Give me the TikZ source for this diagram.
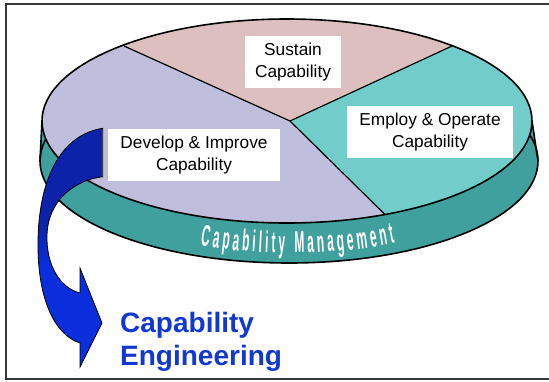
\documentclass[tikz,border=0pt]{standalone}
\usepackage{fontspec}
\setmainfont{Liberation Sans}
\newfontfamily\bandfont[FakeStretch=0.4]{Liberation Sans}
\usetikzlibrary{decorations.text}

\definecolor{lavender}{RGB}{191,190,221}
\definecolor{rosepie}{RGB}{221,191,191}
\definecolor{tealtop}{RGB}{114,205,202}
\definecolor{tealside}{RGB}{64,160,157}
\definecolor{arrowdark}{RGB}{12,34,168}
\definecolor{arrowbright}{RGB}{10,46,219}
\definecolor{capblue}{RGB}{18,56,208}
\definecolor{framegray}{RGB}{55,55,55}

% ribbon arrow: dark upper part, brighter lower part
\pgfdeclareverticalshading{ribbon}{100bp}{color(0bp)=(arrowbright); color(46bp)=(arrowbright); color(55bp)=(arrowdark); color(100bp)=(arrowdark)}

\begin{document}
\begin{tikzpicture}[x=1pt,y=-1pt,
  piebox/.style={fill=white, inner sep=0pt, align=center,
    font=\fontsize{17.3}{21.7}\selectfont, minimum height=52pt},
  rim/.style={draw=black, line width=1.6pt},
  divider/.style={draw=black, line width=1.2pt},
  headline/.style={anchor=base west, inner sep=0pt, text=capblue,
    font=\bfseries\fontsize{28}{33}\selectfont}]

\useasboundingbox (0,0) rectangle (549,381);
\fill[white] (0,0) rectangle (549,381);

% frame
\draw[framegray, line width=2pt] (553,4) -- (6,4) -- (6,379) -- (553,379);

% disc geometry
\coordinate (topL) at (42,121);
\coordinate (topR) at (532,121);
\coordinate (botL) at (40,161);
\coordinate (botR) at (538,161);
\coordinate (C) at (290,121);
\coordinate (A) at (124,46);
\coordinate (B) at (452,46);
\coordinate (D) at (385,214.5);

% side of the disc
\fill[tealside] (topL) -- (botL) -- (botR) -- (topR) -- cycle;
\filldraw[fill=tealside, rim] (289,161) ellipse [x radius=249pt, y radius=102pt];
\draw[rim] (topL) -- (botL) (topR) -- (botR);

% top face with the three sectors
\begin{scope}
  \clip (287,121) ellipse [x radius=245pt, y radius=102pt];
  \fill[lavender] (0,0) rectangle (549,381);
  \fill[rosepie] (C) -- (-42,-29) -- (614,-29) -- cycle;
  \fill[tealtop] (C) -- (614,-29) -- (800,-29) -- (800,308) -- (480,308) -- cycle;
\end{scope}
\draw[divider] (A) -- (C) -- (B) (C) -- (D);
\draw[rim] (287,121) ellipse [x radius=245pt, y radius=102pt];

% lettering on the rim
\path[decorate, decoration={text along path,
    text={|\bandfont\bfseries\fontsize{30}{30}\selectfont|Capability Management},
    text color=white, text align={fit to path}}]
  plot[domain=111.5:64.6, samples=60] ({290+245*cos(\x)},{151+102*sin(\x)});

% sector labels
\node[piebox, minimum width=96pt] (sustain) at (293,62) {Sustain\\Capability};
\node[piebox, minimum width=166pt] (employ) at (430,132) {Employ \& Operate\\Capability};
\node[piebox, minimum width=172pt] (develop) at (194,155) {Develop \& Improve\\Capability};

% curved ribbon arrow
\path[shade, shading=ribbon, draw=black, line width=0.8pt, line join=miter]
  (102.7,128.3) .. controls (60,135) and (38,180) .. (38,245)
  .. controls (38,300) and (55,335) .. (80,343)
  -- (80,367) -- (102,323) -- (80,268) -- (80,293)
  .. controls (60,288) and (46,265) .. (47,235)
  .. controls (48,200) and (75,180) .. (102.7,176.7) -- cycle;

% headline
\node[headline] (capline) at (120,332) {Capability};
\node[headline] (engline) at (120,365) {Engineering};
\end{tikzpicture}
\end{document}
